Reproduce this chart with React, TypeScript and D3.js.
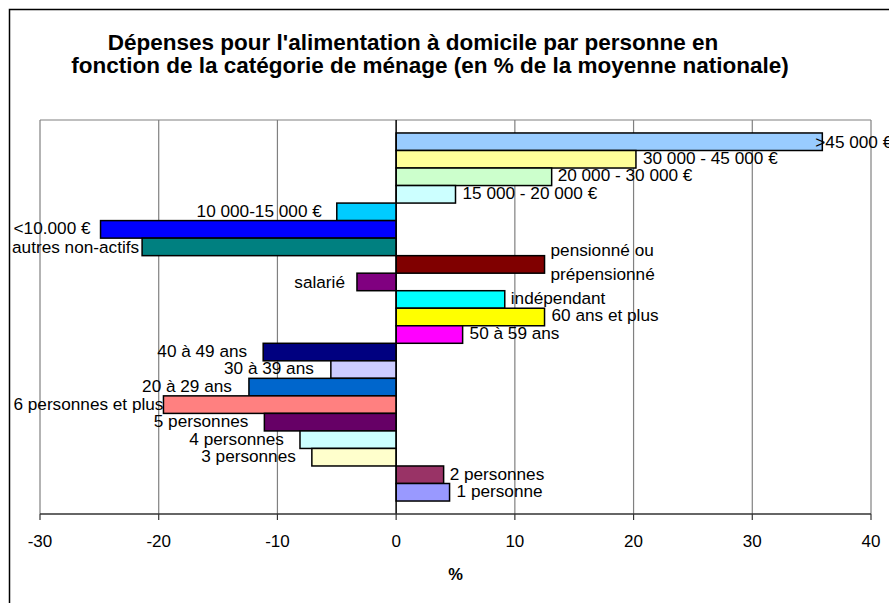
import React from "react";
import * as d3 from "d3";

const categories = [
  ">45 000 €",
  "30 000 - 45 000 €",
  "20 000 - 30 000 €",
  "15 000 - 20 000 €",
  "10 000-15 000 €",
  "<10.000 €",
  "autres non-actifs",
  "pensionné ou\nprépensionné",
  "salarié",
  "indépendant",
  "60 ans et plus",
  "50 à 59 ans",
  "40 à 49 ans",
  "30 à 39 ans",
  "20 à 29 ans",
  "6 personnes et plus",
  "5 personnes",
  "4 personnes",
  "3 personnes",
  "2 personnes",
  "1 personne",
];

const values = [
  35.9, 20.2, 13.1, 5.0, -5.0, -24.9, -21.4, 12.5, -3.3, 9.15, 12.5, 5.6,
  -11.2, -5.5, -12.4, -19.6, -11.1, -8.1, -7.1, 4.0, 4.5,
];

const colors = [
  "#99CCFF", "#FFFF99", "#CCFFCC", "#CCFFFF", "#00CCFF", "#0000FF", "#008080",
  "#800000", "#800080", "#00FFFF", "#FFFF00", "#FF00FF", "#000080", "#CCCCFF",
  "#0066CC", "#FF8080", "#660066", "#CCFFFF", "#FFFFCC", "#993366", "#9999FF",
];

const xTicks = [-30, -20, -10, 0, 10, 20, 30, 40];

// label nudges (layout only): horizontal gap from bar end, vertical shift from bar centre
const labelDx = [-7, 7, 6, 7, -15, -10, -3, 6, -12, 6, 7, 7, -16, -17, -17, 0, -16, -16, -16, 6, 7];
const labelDy = [0, -1, -2, -1.5, -1, -1, 0, -2.4, 0, -1, -2, -2, -1, -2, -1, -1, -1, -1, -1, -1, -1];

const titleLines = [
  "Dépenses pour l'alimentation à domicile par personne en",
  "fonction de la catégorie de ménage (en % de la moyenne nationale)",
];

const FONT = "'Liberation Sans', Arial, sans-serif";

export default function App() {
  const W = 889;
  const H = 603;
  const left = 40;
  const right = 871;
  const top = 120;
  const bottom = 514;

  const x = d3.scaleLinear().domain([-30, 40]).range([left, right]);
  const y = d3
    .scaleBand<string>()
    .domain(categories)
    .range([top, bottom])
    .paddingInner(0)
    .paddingOuter(0.74);

  const x0 = x(0);
  const LABEL_FS = 17.2;

  return (
    <svg
      width={W}
      height={H}
      style={{ position: "absolute", left: 0, top: 0, background: "#fff" }}
      fontFamily={FONT}
    >
      <rect x={0} y={0} width={W} height={H} fill="#fff" />
      <rect x={9.5} y={9.5} width={W + 20} height={H + 20} fill="none" stroke="#000" strokeWidth={1.5} />

      {/* title */}
      <text x={413} y={50} textAnchor="middle" fontWeight="bold" fontSize={22.5} fill="#000">
        {titleLines[0]}
      </text>
      <text x={430} y={73} textAnchor="middle" fontWeight="bold" fontSize={22.5} fill="#000">
        {titleLines[1]}
      </text>

      {/* gridlines */}
      {xTicks.map((t) => (
        <line key={"g" + t} x1={x(t)} x2={x(t)} y1={top} y2={bottom} stroke="#808080" strokeWidth={1.2} />
      ))}
      <line x1={left} x2={right} y1={top} y2={top} stroke="#808080" strokeWidth={1.2} />

      {/* bars */}
      {categories.map((c, i) => {
        const v = values[i];
        const x1 = Math.min(x(v), x0);
        const w = Math.abs(x(v) - x0);
        return (
          <rect
            key={"b" + i}
            x={x1}
            y={y(c)!}
            width={w}
            height={y.bandwidth()}
            fill={colors[i]}
            stroke="#000"
            strokeWidth={1.5}
          />
        );
      })}

      {/* zero axis */}
      <line x1={x0} x2={x0} y1={top} y2={bottom} stroke="#000" strokeWidth={1.3} />

      {/* bottom axis */}
      <line x1={left} x2={right} y1={bottom} y2={bottom} stroke="#333" strokeWidth={1.5} />
      {xTicks.map((t) => (
        <g key={"t" + t}>
          <line x1={x(t)} x2={x(t)} y1={bottom} y2={bottom + 6} stroke="#333" strokeWidth={1.2} />
          <text x={x(t)} y={541} textAnchor="middle" dominantBaseline="central" fontSize={17} fill="#000">
            {t}
          </text>
        </g>
      ))}
      <text x={(left + right) / 2} y={574} textAnchor="middle" dominantBaseline="central" fontSize={16.5} fontWeight="bold">
        %
      </text>

      {/* labels */}
      {categories.map((c, i) => {
        const v = values[i];
        const end = x(v);
        const pos = v >= 0;
        const lx = end + labelDx[i];
        const cy = y(c)! + y.bandwidth() / 2 + labelDy[i];
        const lines = c.split("\n");
        return (
          <text
            key={"l" + i}
            x={lx}
            textAnchor={pos ? "start" : "end"}
            dominantBaseline="central"
            fontSize={LABEL_FS}
            fill="#000"
          >
            {lines.map((ln, k) => (
              <tspan key={k} x={lx} y={cy + (k - (lines.length - 1) / 2) * 24}>
                {ln}
              </tspan>
            ))}
          </text>
        );
      })}
    </svg>
  );
}
